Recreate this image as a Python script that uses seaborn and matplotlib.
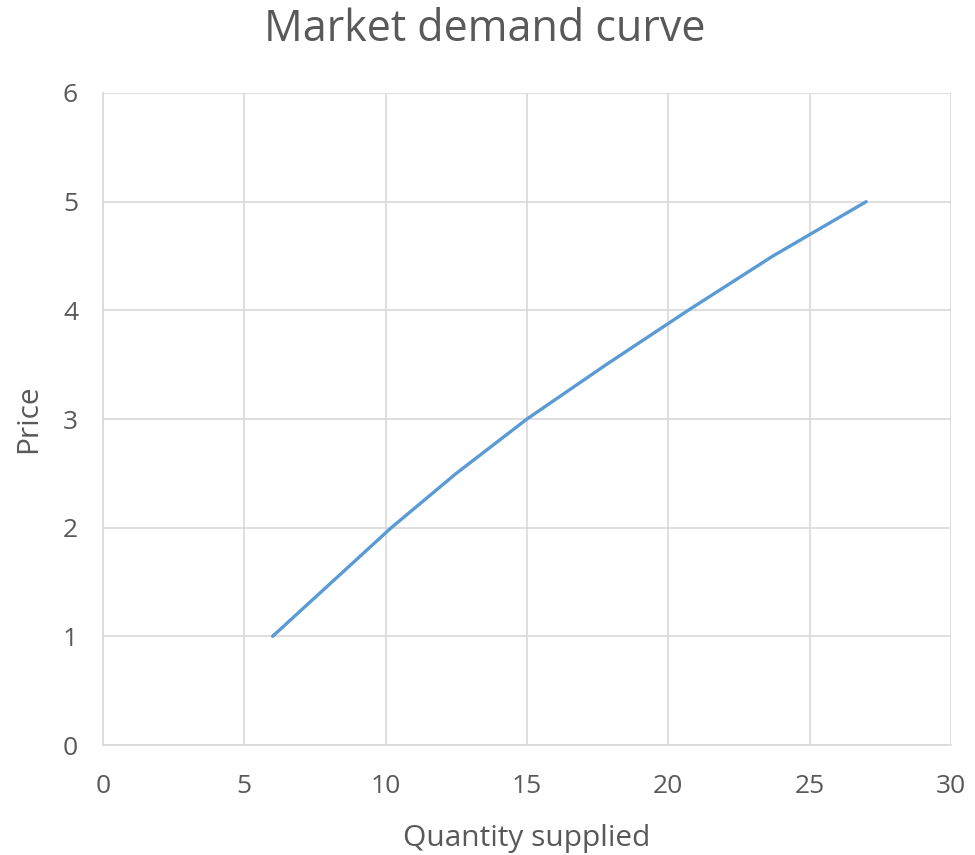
import matplotlib
matplotlib.use("Agg")
import matplotlib.pyplot as plt
import seaborn as sns
import pandas as pd

quantity = [6, 8.1, 10.2, 12.5, 15, 17.8, 20.7, 23.7, 27]
price = [1, 1.5, 2, 2.5, 3, 3.5, 4, 4.5, 5]
x_ticks = [0, 5, 10, 15, 20, 25, 30]
y_ticks = [0, 1, 2, 3, 4, 5, 6]

df = pd.DataFrame({"Quantity supplied": quantity, "Price": price})

sns.set_theme(style="white")
plt.rcParams['font.family'] = ['Open Sans', 'DejaVu Sans']

fig = plt.figure(figsize=(9.75, 8.55), dpi=100)
ax = fig.add_axes([103/975, 1 - 745/855, (951-103)/975, (745-93)/855])

sns.lineplot(data=df, x="Quantity supplied", y="Price", ax=ax, color="#5b9bd5",
             linewidth=2.4, sort=False, estimator=None)
ax.lines[0].set_solid_joinstyle("round")

ax.set_xlim(0, 30)
ax.set_ylim(0, 6)
ax.set_xticks(x_ticks)
ax.set_yticks(y_ticks)
ax.grid(True, color="#d9d9d9", linewidth=1.2)
ax.set_axisbelow(True)
for s in ["top", "right"]:
    ax.spines[s].set_visible(False)
for s in ["left", "bottom"]:
    ax.spines[s].set_color("#d9d9d9")
    ax.spines[s].set_linewidth(1.2)
ax.tick_params(axis="x", length=0, labelsize=19, labelcolor="#595959", pad=21)
ax.tick_params(axis="y", length=0, labelsize=19, labelcolor="#595959", pad=18)
ax.set_xlabel("Quantity supplied", fontsize=21.5, color="#595959", labelpad=18)
ax.set_ylabel("Price", fontsize=21.5, color="#595959", labelpad=14)
fig.text(485/975, 1 - 30/855, "Market demand curve", ha="center", va="center",
         fontsize=31, color="#595959")

fig.savefig("out.png", dpi=100)
